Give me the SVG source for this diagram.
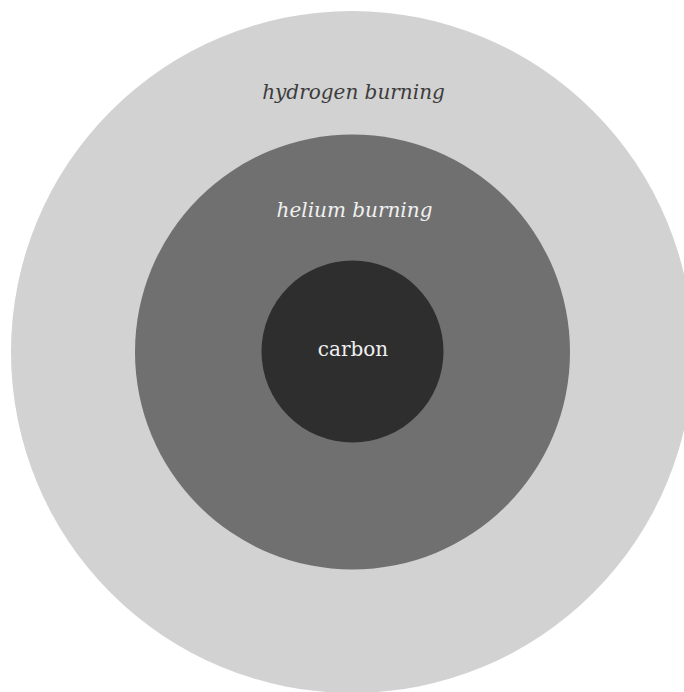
<svg xmlns="http://www.w3.org/2000/svg" width="684" height="692" viewBox="0 0 684 692">
<style>
.lbl{font-family:"DejaVu Serif","Liberation Serif",serif;font-size:20px;text-anchor:middle}
.it{font-style:italic}
</style>
<rect width="684" height="692" fill="#ffffff"/>
<g id="hydrogen">
<circle cx="352" cy="352" r="341" fill="#d2d2d2"/>
<text class="lbl it" x="353.5" y="99" fill="#3c3c3c">hydrogen burning</text>
</g>
<g id="helium">
<circle cx="352.5" cy="352" r="217.5" fill="#707070"/>
<text class="lbl it" x="354.5" y="217" fill="#f0f0f0">helium burning</text>
</g>
<g id="carbon">
<circle cx="352.5" cy="351.5" r="91" fill="#2e2e2e"/>
<text class="lbl" x="353" y="356" fill="#f0f0f0">carbon</text>
</g>
<g id="connectors"/>
</svg>
